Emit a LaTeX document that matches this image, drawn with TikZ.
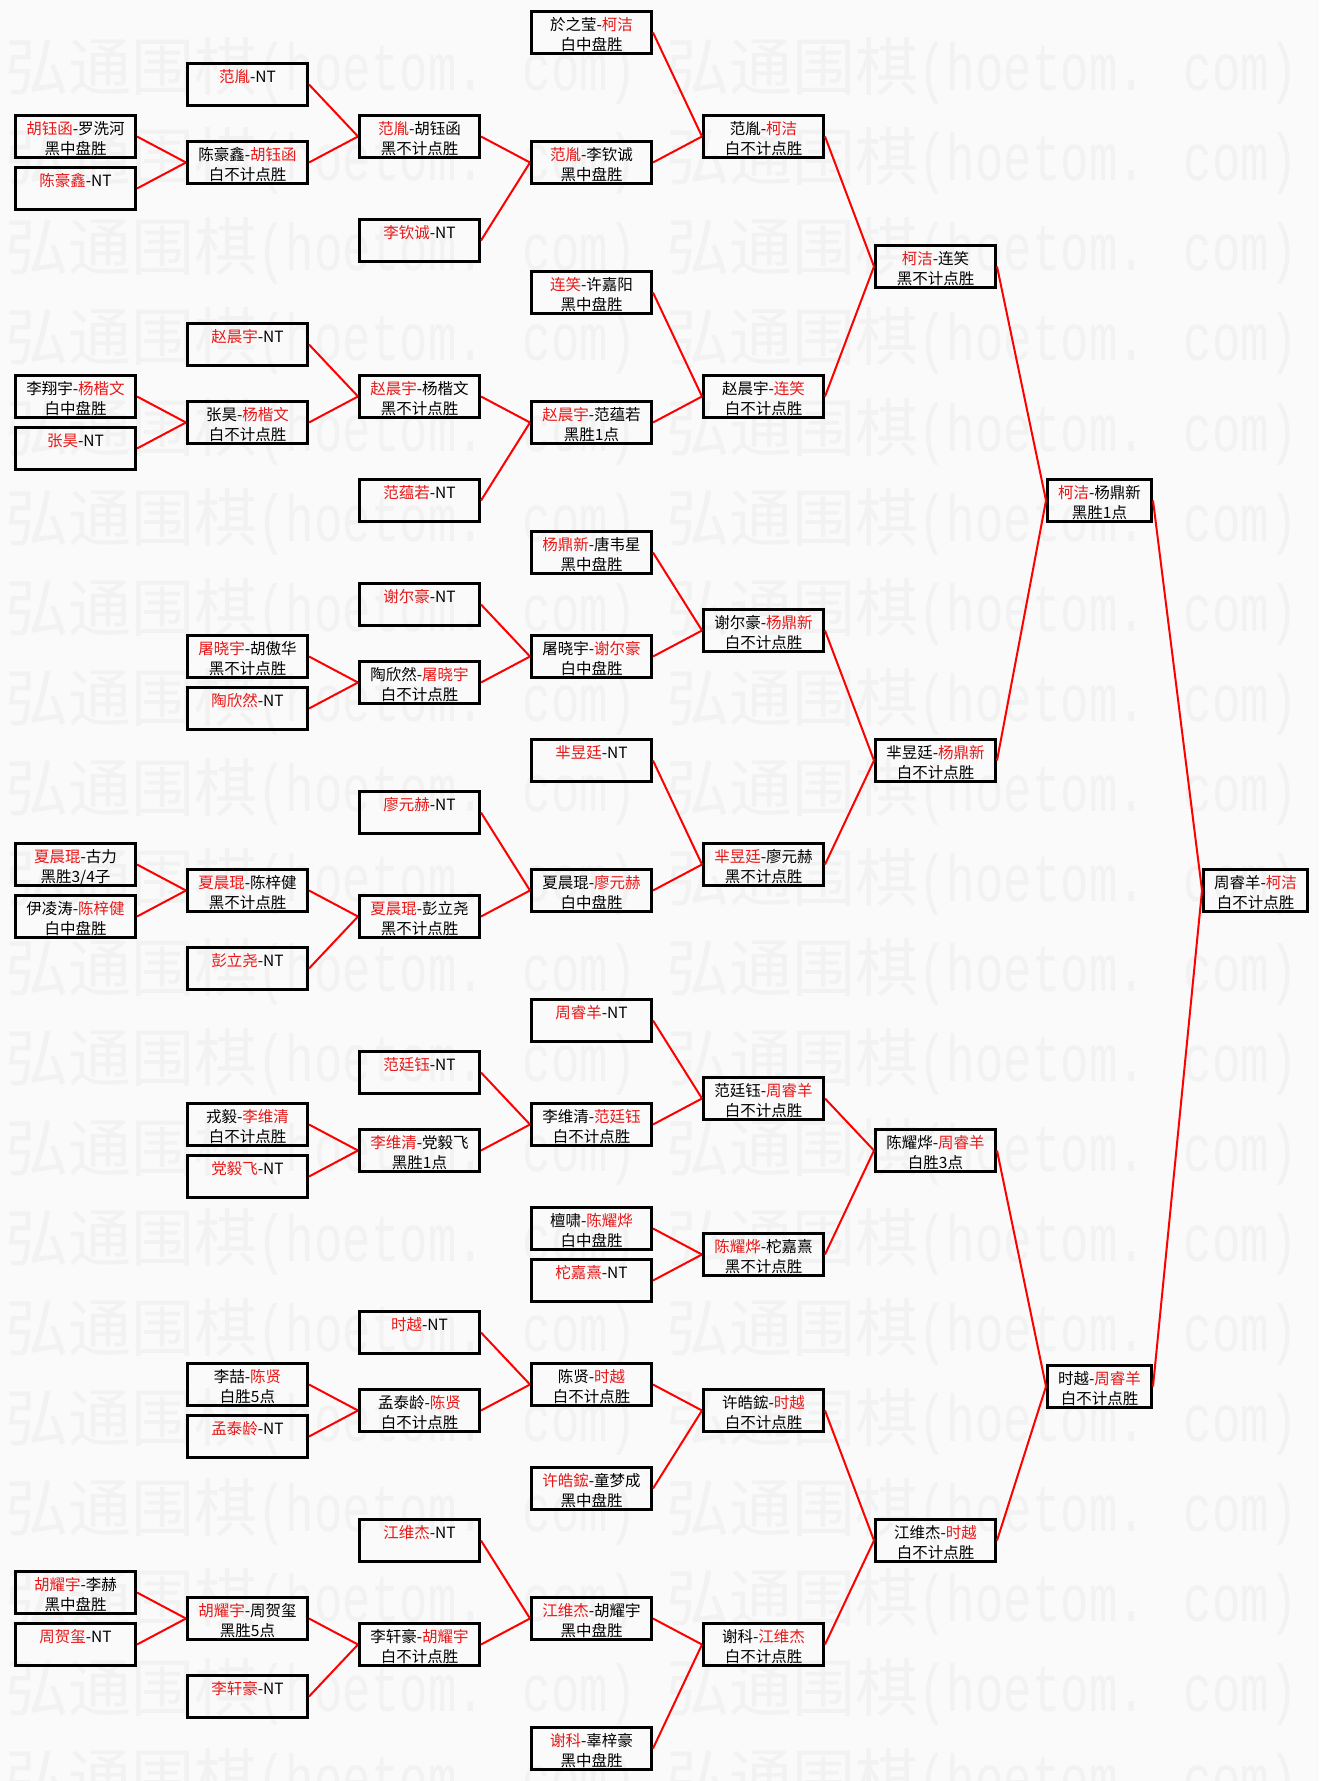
\documentclass[tikz,border=0pt]{standalone}
\usepackage{fontspec}
\usepackage{graphicx}
\setmainfont{Noto Sans CJK SC}
\newfontfamily\wmlatin{Liberation Mono}
\definecolor{bgcol}{RGB}{250,250,250}
\definecolor{wmcol}{RGB}{242,242,242}
\definecolor{wincol}{RGB}{232,24,24}
\newcommand\wn[1]{\textcolor{wincol}{#1}}
\newcommand\wmtext{\fontsize{31.5pt}{31.5pt}\selectfont 弘通围棋\scalebox{1}[1.4]{\fontsize{23.7pt}{24pt}\selectfont\wmlatin (hoetom. com)}}
\tikzset{
  box/.style={draw=black, line width=1.3pt, rectangle, inner sep=0pt, minimum width=60.2pt, minimum height=21.2pt},
  wbox/.style={box, minimum width=52.2pt},
  txt/.style={anchor=base, inner sep=0pt, font=\fontsize{7.75pt}{10pt}\selectfont},
  link/.style={draw=red, line width=1pt},
  wmnode/.style={anchor=base west, inner sep=0pt, text=wmcol}
}
% style, name, center x, top y, line 1, line 2
\newcommand\bx[6]{%
  \node[#1] (#2) at (#3,{#4+22.5}) {};
  \node[txt] (#2t1) at (#3,{#4+20.6}) {#5};
  \node[txt] (#2t2) at (#3,{#4+40.6}) {#6};
}
\begin{document}
\begin{tikzpicture}[x=0.5pt,y=-0.5pt]
\useasboundingbox (0,0) rectangle (1319,1781);
\fill[bgcol] (0,0) rectangle (1319,1781);
\foreach \k in {0,...,19} {
  \node[wmnode] (wm\k a) at (5,{91+90*\k}) {\wmtext};
  \node[wmnode] (wm\k b) at (666,{91+90*\k}) {\wmtext};
}
% column A
\bx{box}{A1}{75.5}{114}{\wn{胡钰函}-罗洗河}{黑中盘胜}
\bx{box}{A2}{75.5}{166}{\wn{陈豪鑫}-NT}{}
\bx{box}{A3}{75.5}{374}{李翔宇-\wn{杨楷文}}{白中盘胜}
\bx{box}{A4}{75.5}{426}{\wn{张昊}-NT}{}
\bx{box}{A5}{75.5}{842}{\wn{夏晨琨}-古力}{黑胜3/4子}
\bx{box}{A6}{75.5}{894}{伊凌涛-\wn{陈梓健}}{白中盘胜}
\bx{box}{A7}{75.5}{1570}{\wn{胡耀宇}-李赫}{黑中盘胜}
\bx{box}{A8}{75.5}{1622}{\wn{周贺玺}-NT}{}
% column B
\bx{box}{B1}{247.5}{62}{\wn{范胤}-NT}{}
\bx{box}{B2}{247.5}{140}{陈豪鑫-\wn{胡钰函}}{白不计点胜}
\bx{box}{B3}{247.5}{322}{\wn{赵晨宇}-NT}{}
\bx{box}{B4}{247.5}{400}{张昊-\wn{杨楷文}}{白不计点胜}
\bx{box}{B5}{247.5}{634}{\wn{屠晓宇}-胡傲华}{黑不计点胜}
\bx{box}{B6}{247.5}{686}{\wn{陶欣然}-NT}{}
\bx{box}{B7}{247.5}{868}{\wn{夏晨琨}-陈梓健}{黑不计点胜}
\bx{box}{B8}{247.5}{946}{\wn{彭立尧}-NT}{}
\bx{box}{B9}{247.5}{1102}{戎毅-\wn{李维清}}{白不计点胜}
\bx{box}{B10}{247.5}{1154}{\wn{党毅飞}-NT}{}
\bx{box}{B11}{247.5}{1362}{李喆-\wn{陈贤}}{白胜5点}
\bx{box}{B12}{247.5}{1414}{\wn{孟泰龄}-NT}{}
\bx{box}{B13}{247.5}{1596}{\wn{胡耀宇}-周贺玺}{黑胜5点}
\bx{box}{B14}{247.5}{1674}{\wn{李轩豪}-NT}{}
% column C
\bx{box}{C1}{419.5}{114}{\wn{范胤}-胡钰函}{黑不计点胜}
\bx{box}{C2}{419.5}{218}{\wn{李钦诚}-NT}{}
\bx{box}{C3}{419.5}{374}{\wn{赵晨宇}-杨楷文}{黑不计点胜}
\bx{box}{C4}{419.5}{478}{\wn{范蕴若}-NT}{}
\bx{box}{C5}{419.5}{582}{\wn{谢尔豪}-NT}{}
\bx{box}{C6}{419.5}{660}{陶欣然-\wn{屠晓宇}}{白不计点胜}
\bx{box}{C7}{419.5}{790}{\wn{廖元赫}-NT}{}
\bx{box}{C8}{419.5}{894}{\wn{夏晨琨}-彭立尧}{黑不计点胜}
\bx{box}{C9}{419.5}{1050}{\wn{范廷钰}-NT}{}
\bx{box}{C10}{419.5}{1128}{\wn{李维清}-党毅飞}{黑胜1点}
\bx{box}{C11}{419.5}{1310}{\wn{时越}-NT}{}
\bx{box}{C12}{419.5}{1388}{孟泰龄-\wn{陈贤}}{白不计点胜}
\bx{box}{C13}{419.5}{1518}{\wn{江维杰}-NT}{}
\bx{box}{C14}{419.5}{1622}{李轩豪-\wn{胡耀宇}}{白不计点胜}
% column D
\bx{box}{D1}{591.5}{10}{於之莹-\wn{柯洁}}{白中盘胜}
\bx{box}{D2}{591.5}{140}{\wn{范胤}-李钦诚}{黑中盘胜}
\bx{box}{D3}{591.5}{270}{\wn{连笑}-许嘉阳}{黑中盘胜}
\bx{box}{D4}{591.5}{400}{\wn{赵晨宇}-范蕴若}{黑胜1点}
\bx{box}{D5}{591.5}{530}{\wn{杨鼎新}-唐韦星}{黑中盘胜}
\bx{box}{D6}{591.5}{634}{屠晓宇-\wn{谢尔豪}}{白中盘胜}
\bx{box}{D7}{591.5}{738}{\wn{芈昱廷}-NT}{}
\bx{box}{D8}{591.5}{868}{夏晨琨-\wn{廖元赫}}{白中盘胜}
\bx{box}{D9}{591.5}{998}{\wn{周睿羊}-NT}{}
\bx{box}{D10}{591.5}{1102}{李维清-\wn{范廷钰}}{白不计点胜}
\bx{box}{D11}{591.5}{1206}{檀啸-\wn{陈耀烨}}{白中盘胜}
\bx{box}{D12}{591.5}{1258}{\wn{柁嘉熹}-NT}{}
\bx{box}{D13}{591.5}{1362}{陈贤-\wn{时越}}{白不计点胜}
\bx{box}{D14}{591.5}{1466}{\wn{许皓鋐}-童梦成}{黑中盘胜}
\bx{box}{D15}{591.5}{1596}{\wn{江维杰}-胡耀宇}{黑中盘胜}
\bx{box}{D16}{591.5}{1726}{\wn{谢科}-辜梓豪}{黑中盘胜}
% column E
\bx{box}{E1}{763.5}{114}{范胤-\wn{柯洁}}{白不计点胜}
\bx{box}{E2}{763.5}{374}{赵晨宇-\wn{连笑}}{白不计点胜}
\bx{box}{E3}{763.5}{608}{谢尔豪-\wn{杨鼎新}}{白不计点胜}
\bx{box}{E4}{763.5}{842}{\wn{芈昱廷}-廖元赫}{黑不计点胜}
\bx{box}{E5}{763.5}{1076}{范廷钰-\wn{周睿羊}}{白不计点胜}
\bx{box}{E6}{763.5}{1232}{\wn{陈耀烨}-柁嘉熹}{黑不计点胜}
\bx{box}{E7}{763.5}{1388}{许皓鋐-\wn{时越}}{白不计点胜}
\bx{box}{E8}{763.5}{1622}{谢科-\wn{江维杰}}{白不计点胜}
% column F
\bx{box}{F1}{935.5}{244}{\wn{柯洁}-连笑}{黑不计点胜}
\bx{box}{F2}{935.5}{738}{芈昱廷-\wn{杨鼎新}}{白不计点胜}
\bx{box}{F3}{935.5}{1128}{陈耀烨-\wn{周睿羊}}{白胜3点}
\bx{box}{F4}{935.5}{1518}{江维杰-\wn{时越}}{白不计点胜}
% column G
\bx{wbox}{G1}{1099.5}{478}{\wn{柯洁}-杨鼎新}{黑胜1点}
\bx{wbox}{G2}{1099.5}{1364}{时越-\wn{周睿羊}}{白不计点胜}
% final
\bx{wbox}{H}{1255.5}{868}{周睿羊-\wn{柯洁}}{白不计点胜}
% connectors
\foreach \a/\b in {A1/B2,A2/B2,A3/B4,A4/B4,A5/B7,A6/B7,A7/B13,A8/B13,
  B1/C1,B2/C1,B3/C3,B4/C3,B5/C6,B6/C6,B7/C8,B8/C8,B9/C10,B10/C10,B11/C12,B12/C12,B13/C14,B14/C14,
  C1/D2,C2/D2,C3/D4,C4/D4,C5/D6,C6/D6,C7/D8,C8/D8,C9/D10,C10/D10,C11/D13,C12/D13,C13/D15,C14/D15,
  D1/E1,D2/E1,D3/E2,D4/E2,D5/E3,D6/E3,D7/E4,D8/E4,D9/E5,D10/E5,D11/E6,D12/E6,D13/E7,D14/E7,D15/E8,D16/E8,
  E1/F1,E2/F1,E3/F2,E4/F2,E5/F3,E6/F3,E7/F4,E8/F4,
  F1/G1,F2/G1,F3/G2,F4/G2,G1/H,G2/H}
  \draw[link] (\a.east) -- (\b.west);
\end{tikzpicture}
\end{document}
